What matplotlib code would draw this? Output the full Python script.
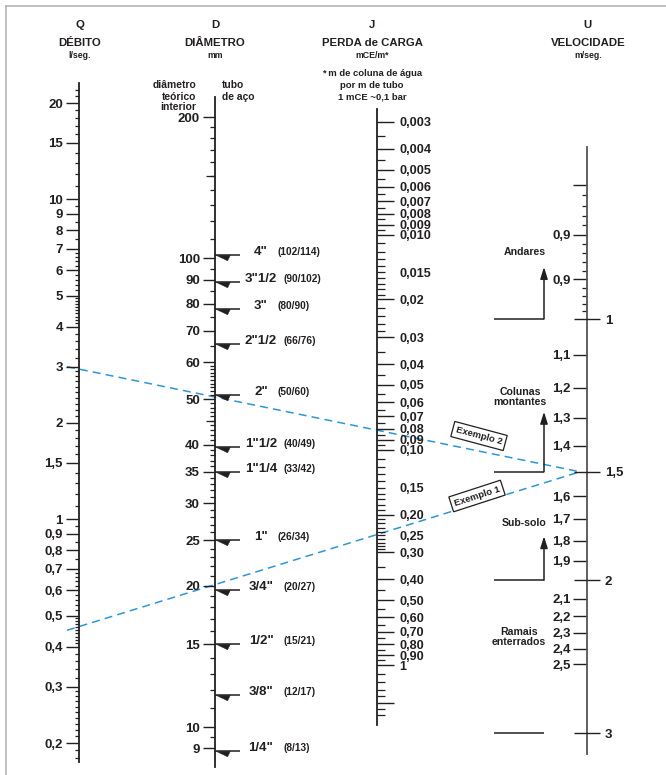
import numpy as np
import matplotlib
matplotlib.use("Agg")
import matplotlib.pyplot as plt
from matplotlib.ticker import FixedLocator, FuncFormatter, NullFormatter, NullLocator

plt.rcParams['font.family'] = ['Liberation Sans', 'DejaVu Sans']
plt.rcParams['font.weight'] = 'bold'

W, H = 666, 775
INK = '#231f20'
BLUE = '#2a97d8'
PT = 0.72  # points per pixel (dpi 100)


def steps(a, b, s):
    return [round(v, 4) for v in np.arange(a, b + s / 2, s)]

# ---------------- data ----------------
# Q : débito (l/seg)
q_major = [20, 15, 10, 9, 8, 7, 6, 5, 4, 3, 2, 1.5, 1, 0.9, 0.8, 0.7, 0.6, 0.5, 0.4, 0.3, 0.2]
q_labels = ['20', '15', '10', '9', '8', '7', '6', '5', '4', '3', '2', '1,5', '1',
            '0,9', '0,8', '0,7', '0,6', '0,5', '0,4', '0,3', '0,2']
q_minor = (steps(0.18, 0.29, 0.01) + steps(0.32, 0.38, 0.02) + steps(0.41, 0.49, 0.01)
           + steps(0.52, 0.68, 0.02) + steps(0.75, 0.95, 0.05) + steps(1.1, 2.9, 0.1)
           + steps(3.2, 3.8, 0.2) + steps(4.1, 4.9, 0.1) + steps(5.2, 6.8, 0.2)
           + steps(7.5, 9.5, 0.5) + steps(11, 14, 1) + steps(16, 19, 1) + [21, 22])

# D : diâmetro (mm)
d_major = [200, 100, 90, 80, 70, 60, 50, 40, 35, 30, 25, 20, 15, 10, 9]
d_labels = [str(v) for v in d_major]
d_minor = (steps(110, 190, 10) + [65, 75, 85, 95] + steps(51, 59, 1) + steps(41, 49, 1)
           + steps(36, 39, 1) + steps(31, 34, 1) + steps(26, 29, 1) + steps(21, 24, 1)
           + steps(16, 19, 1) + steps(11, 14, 1) + [9.5])
d_medium = [150, 45]
pipe_inch = ['4"', '3"1/2', '3"', '2"1/2', '2"', '1"1/2', '1"1/4', '1"', '3/4"', '1/2"', '3/8"', '1/4"']
pipe_mm = ['(102/114)', '(90/102)', '(80/90)', '(66/76)', '(50/60)', '(40/49)', '(33/42)',
           '(26/34)', '(20/27)', '(15/21)', '(12/17)', '(8/13)']
pipe_d = [101.5, 89, 78, 65.5, 51, 39.5, 35, 25, 19.6, 15, 11.7, 8.9]

# J : perda de carga (mCE/m)
j_major = [0.003, 0.004, 0.005, 0.006, 0.007, 0.008, 0.009, 0.010, 0.02, 0.03, 0.04, 0.05,
           0.06, 0.07, 0.08, 0.09, 0.10, 0.20, 0.30, 0.40, 0.50, 0.60, 0.70, 0.80, 0.90, 1.0, 1.5]
j_labels = ['0,003', '0,004', '0,005', '0,006', '0,007', '0,008', '0,009', '0,010', '0,02',
            '0,03', '0,04', '0,05', '0,06', '0,07', '0,08', '0,09', '0,10', '0,20', '0,30',
            '0,40', '0,50', '0,60', '0,70', '0,80', '0,90', '1', '']
j_minor_lab = [0.015, 0.15, 0.25]
j_minor_lab_text = ['0,015', '0,15', '0,25']
j_minor = ([0.0035, 0.0045, 0.0055, 0.0065, 0.0075, 0.0085, 0.0095]
           + steps(0.011, 0.014, 0.001) + steps(0.016, 0.019, 0.001) + [0.022, 0.024, 0.026, 0.028]
           + [0.035, 0.045, 0.055, 0.065, 0.075, 0.085, 0.095]
           + steps(0.11, 0.14, 0.01) + steps(0.16, 0.19, 0.01) + steps(0.21, 0.24, 0.01)
           + steps(0.26, 0.29, 0.01) + [0.35, 0.45, 0.55, 0.65, 0.75, 0.85, 0.95]
           + [1.1, 1.2, 1.3, 1.4, 1.6, 1.7])

# U : velocidade (m/seg)
u_left = [0.8, 0.9, 1.1, 1.2, 1.3, 1.4, 1.6, 1.7, 1.8, 1.9, 2.1, 2.2, 2.3, 2.4, 2.5, 0.7]
u_left_labels = ['0,9', '0,9', '1,1', '1,2', '1,3', '1,4', '1,6', '1,7', '1,8', '1,9',
                 '2,1', '2,2', '2,3', '2,4', '2,5', '']
u_right = [1, 1.5, 2, 3]
u_right_labels = ['1', '1,5', '2', '3']
u_minor = [0.72, 0.74, 0.76, 0.78, 0.82, 0.84, 0.86, 0.88, 0.92, 0.94, 0.96, 0.98]

zone_names = ['Andares', 'Colunas\nmontantes', 'Sub-solo', 'Ramais\nenterrados']
zone_base_u = [1, 1.5, 2, 3]
zone_arrow_px = [52, 60, 44, 0]
zone_text_xy = [(525, 252), (520, 397), (524, 523), (519, 637)]

ex_names = ['Exemplo 2', 'Exemplo 1']
ex_q = [3, 0.45]
ex_u = [1.5, 1.5]
ex_box_xy = [(479, 436), (477, 496)]
ex_box_rot = [-15, 18]

# ---------------- figure ----------------
fig = plt.figure(figsize=(W / 100, H / 100), dpi=100)
base = fig.add_axes([0, 0, 1, 1])
base.set_xlim(0, W)
base.set_ylim(H, 0)
base.axis('off')


def log_limits(v1, y1, v2, y2):
    k = (y2 - y1) / (np.log10(v2) - np.log10(v1))
    lo = np.log10(v1) + (H - y1) / k
    hi = np.log10(v1) + (0 - y1) / k
    return 10 ** lo, 10 ** hi


def column(anchors, x, side, bounds, spine=True):
    ax = fig.add_axes([0, 0, 1, 1])
    ax.set_yscale('log')
    ax.set_xlim(0, W)
    ax.set_ylim(*log_limits(*anchors))
    ax.patch.set_visible(False)
    ax.xaxis.set_visible(False)
    for s in ax.spines.values():
        s.set_visible(False)
    sp = ax.spines[side]
    sp.set_visible(spine)
    sp.set_position(('data', x))
    sp.set_bounds(*bounds)
    sp.set_color(INK)
    sp.set_linewidth(1.3)
    ax.yaxis.set_ticks_position(side)
    return ax


def set_ticks(ax, major, labels, minor, minor_vals=(), minor_labels=()):
    lab = {round(v, 6): t for v, t in zip(major, labels)}
    ax.yaxis.set_major_locator(FixedLocator(major))
    ax.yaxis.set_major_formatter(FuncFormatter(lambda v, p: lab.get(round(v, 6), '')))
    allminor = list(minor) + list(minor_vals)
    if allminor:
        ax.yaxis.set_minor_locator(FixedLocator(allminor))
    else:
        ax.yaxis.set_minor_locator(NullLocator())
    mlab = {round(v, 6): t for v, t in zip(minor_vals, minor_labels)}
    if mlab:
        ax.yaxis.set_minor_formatter(FuncFormatter(lambda v, p: mlab.get(round(v, 6), '')))
    else:
        ax.yaxis.set_minor_formatter(NullFormatter())


LBL = 9.5

# Q axis
axQ = column((20, 103, 0.2, 743), 79, 'left', (0.175, 23.1))
set_ticks(axQ, q_major, q_labels, q_minor)
axQ.tick_params(which='major', direction='out', length=13 * PT, width=1.0, color=INK,
                pad=2.2, labelsize=LBL, labelcolor=INK)
axQ.tick_params(which='minor', direction='out', length=4 * PT, width=0.9, color=INK)

# D axis
axD = column((200, 117, 10, 727), 215, 'left', (8.2, 221))
set_ticks(axD, d_major, d_labels, d_minor)
axD.tick_params(which='major', direction='out', length=12 * PT, width=1.0, color=INK,
                pad=2.2, labelsize=LBL, labelcolor=INK)
axD.tick_params(which='minor', direction='out', length=5 * PT, width=0.9, color=INK)
for v in d_medium:
    axD.plot([206, 215], [v, v], color=INK, lw=0.9, solid_capstyle='butt')
barb = [(0, 0), (1, 0.02), (0.8, -0.38), (0, 0)]
for v, inch, mm in zip(pipe_d, pipe_inch, pipe_mm):
    axD.plot([215, 240], [v, v], color=INK, lw=1.1, solid_capstyle='butt')
    axD.plot([215.5], [v], marker=barb, ms=20, color=INK, mew=0.3)
    axD.text(261, v, inch, ha='center', va='baseline', fontsize=9.5, color=INK)
    axD.text(278 if len(inch) <= 2 else 283, v, mm, ha='left', va='baseline',
             fontsize=7.3, color=INK)

# J axis
JL = 9.1
axJ = column((0.003, 122, 1, 665), 377, 'right', (0.0026, 1.9))
set_ticks(axJ, j_major, j_labels, j_minor, j_minor_lab, j_minor_lab_text)
axJ.tick_params(which='major', direction='out', length=17 * PT, width=1.0, color=INK,
                pad=3.6, labelsize=JL, labelcolor=INK)
axJ.tick_params(which='minor', direction='out', length=8 * PT, width=0.9, color=INK,
                pad=10.1, labelsize=JL, labelcolor=INK)

# U axis (left labels)
axU = column((1, 319, 3, 733), 587, 'left', (0.633, 3.17))
axU.spines['left'].set_color('#555555')
set_ticks(axU, u_left, u_left_labels, u_minor)
axU.tick_params(which='major', direction='out', length=14 * PT, width=1.0, color=INK,
                pad=1.6, labelsize=LBL, labelcolor=INK)
axU.tick_params(which='minor', direction='out', length=5 * PT, width=0.9, color=INK)
# U axis (right labels, crossing ticks)
axU2 = column((1, 319, 3, 733), 587, 'right', (0.633, 3.17), spine=False)
set_ticks(axU2, u_right, u_right_labels, [])
axU2.tick_params(which='major', direction='inout', length=27 * PT, width=1.0, color=INK,
                 pad=3.0, labelsize=LBL, labelcolor=INK)

# zones on velocity scale
for name, b, off, (tx, ty) in zip(zone_names, zone_base_u, zone_arrow_px, zone_text_xy):
    axU.plot([494, 544], [b, b], color=INK, lw=1.1, solid_capstyle='butt')
    if off:
        axU.annotate('', xy=(544, b), xytext=(0, off * PT), textcoords='offset points',
                     arrowprops=dict(arrowstyle='<|-,head_length=0.7,head_width=0.22',
                                     color=INK, lw=1.1, shrinkA=0, shrinkB=0))
    base.text(tx, ty, name, ha='center', va='center', fontsize=7.6, color=INK,
              linespacing=0.9)


# example lines
def to_base(ax, x, v):
    return base.transData.inverted().transform(ax.transData.transform((x, v)))


for name, qv, uv, (bx, by), rot in zip(ex_names, ex_q, ex_u, ex_box_xy, ex_box_rot):
    p1 = to_base(axQ, 67, qv)
    p2 = to_base(axU, 580, uv)
    base.plot([p1[0], p2[0]], [p1[1], p2[1]], color=BLUE, lw=1.1, dashes=(5.2, 3.4), zorder=3)
    base.text(bx, by, name, ha='center', va='center', rotation=rot, rotation_mode='anchor',
              fontsize=6.8, color=INK, zorder=5,
              bbox=dict(boxstyle='square,pad=0.35', fc='white', ec=INK, lw=0.9))

# headers
heads = [(80, ['Q', 'DÉBITO', 'l/seg.']), (215, ['D', 'DIÂMETRO', 'mm']),
         (372, ['J', 'PERDA de CARGA', 'mCE/m*']), (588, ['U', 'VELOCIDADE', 'm/seg.'])]
for x, (a, b, c) in heads:
    base.text(x, 25.5, a, ha='center', va='center', fontsize=8.2, color=INK)
    base.text(x, 42.5, b, ha='center', va='center', fontsize=8.2, color=INK)
    base.text(x, 55, c, ha='center', va='center', fontsize=6.3, color=INK)
for y, t in zip([73, 85.5, 97], ['* m de coluna de água', 'por m de tubo', '1 mCE ~0,1 bar']):
    base.text(372, y, t, ha='center', va='center', fontsize=6.8, color=INK)
for y, t in zip([85, 96.5, 107.5], ['diâmetro', 'teórico', 'interior']):
    base.text(196, y, t, ha='right', va='center', fontsize=7.4, color=INK)
for y, t in zip([85, 96.5], ['tubo', 'de aço']):
    base.text(222, y, t, ha='left', va='center', fontsize=7.4, color=INK)

# frame
base.plot([6, W], [6, 6], color='#b5b5b5', lw=1.2)
base.plot([6, 6], [6, H], color='#b5b5b5', lw=1.2)

fig.savefig('out.png', dpi=100)
